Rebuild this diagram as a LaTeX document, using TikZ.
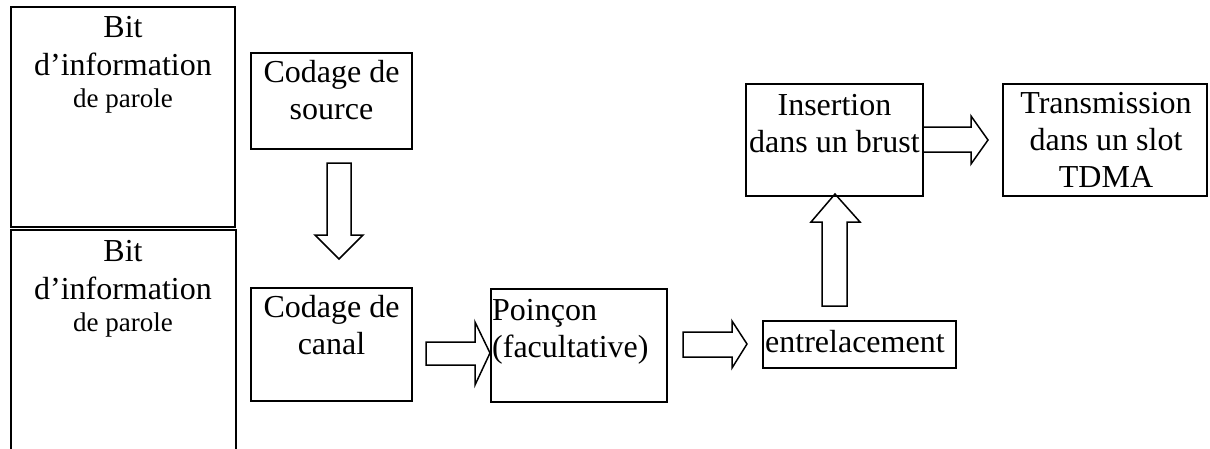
\documentclass[tikz,border=0pt]{standalone}
\usepackage{fontspec}
\setmainfont{Liberation Serif}
\begin{document}
\begin{tikzpicture}[x=1pt,y=-1pt,
  box/.style={draw, line width=1.5pt, inner sep=0pt, outer sep=0pt, anchor=north west},
  sidebox/.style={draw, line width=2.2pt, inner sep=0pt, outer sep=0pt, anchor=north west},
  txt/.style={inner sep=0pt, anchor=north, align=center, font=\fontsize{32}{37}\selectfont},
  barrow/.style={draw, line width=1.5pt, line join=miter}]
\useasboundingbox (0,0) rectangle (1210,448);
\clip (0,0) rectangle (1210,448);

% left boxes
\node[sidebox, minimum width=224pt, minimum height=220pt] (bit1) at (11,7) {};
\node[sidebox, minimum width=225pt, minimum height=240pt] (bit2) at (11,230) {};
\node[txt] (bit1t) at (123,11.1) {\strut Bit\\[1pt]d’information\\[-5pt]{\fontsize{27}{32}\selectfont de parole}};
\node[txt] (bit2t) at (123,235.1) {\strut Bit\\[1pt]d’information\\[-5pt]{\fontsize{27}{32}\selectfont de parole}};

% main boxes
\node[box, minimum width=161pt, minimum height=96pt] (src) at (251,53) {};
\node[txt] (srct) at (331.5,56.1) {\strut Codage de\\source};

\node[box, minimum width=161pt, minimum height=113pt] (can) at (251,288) {};
\node[txt] (cant) at (331.5,291.1) {\strut Codage de\\canal};

\node[box, minimum width=176pt, minimum height=113pt] (poi) at (491,289) {};
\node[txt, anchor=north west, align=left] (poit) at (492,294.1) {\strut Poinçon\\(facultative)};

\node[box, minimum width=193pt, minimum height=47pt] (ent) at (763,321) {};
\node[txt, anchor=north west] (entt) at (765,326.1) {\strut entrelacement};

\node[box, minimum width=177pt, minimum height=112pt] (ins) at (746,84) {};
\node[txt] (inst) at (834.5,89.8) {\strut Insertion\\dans un brust};

\node[box, minimum width=204pt, minimum height=112pt] (tra) at (1003,84) {};
\node[txt] (trat) at (1106,87.4) {\strut Transmission\\dans un slot\\TDMA};

% block arrows
\draw[barrow] (327,163) -- (351,163) -- (351,235) -- (363,235) -- (339,259) -- (315,235) -- (327,235) -- cycle;
\draw[barrow] (426,342) -- (475,342) -- (475,322) -- (490,353) -- (475,385) -- (475,365) -- (426,365) -- cycle;
\draw[barrow] (683,332) -- (732,332) -- (732,321) -- (747,344) -- (732,368) -- (732,357) -- (683,357) -- cycle;
\draw[barrow] (822,306) -- (822,222) -- (811,222) -- (835,194) -- (860,222) -- (847,222) -- (847,306) -- cycle;
\draw[barrow] (923,127) -- (971,127) -- (971,116) -- (988,140) -- (971,164) -- (971,152) -- (923,152) -- cycle;
\end{tikzpicture}
\end{document}
